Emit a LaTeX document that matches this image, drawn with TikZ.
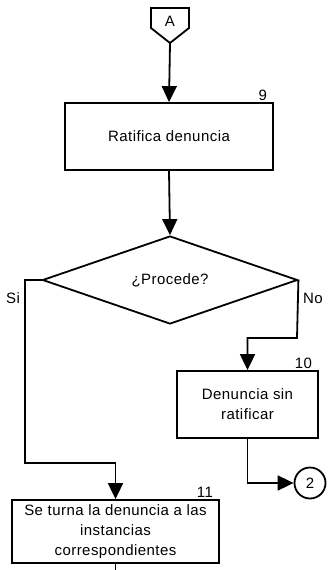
\documentclass[tikz,border=0pt]{standalone}
\usepackage{fontspec}
\setmainfont{Liberation Sans}[LetterSpace=3]
\usetikzlibrary{arrows.meta,shapes.geometric}

\begin{document}
\begin{tikzpicture}[x=1pt, y=-1pt, line width=1.8pt,
    font=\fontsize{15}{20}\selectfont,
    procbox/.style={draw, rectangle, align=center, inner sep=2pt},
    flow/.style={-{Triangle[length=16pt, width=15pt]}},
    stepnum/.style={anchor=south east, inner sep=1pt, xshift=-5pt}]
    \useasboundingbox (0,0) rectangle (328,570);
    % off-page connector
    \draw (151,8) -- (189,8) -- (189,28) -- (170,43) -- (151,28) -- cycle;
    \node (A) at (170,21) {A};
    \coordinate (Atip) at (170,43);
    % process steps
    \node[procbox, minimum width=208pt, minimum height=67pt] (ratifica) at (169,136.5) {Ratifica denuncia};
    \node[stepnum] at (ratifica.north east) {9};
    \node[draw, diamond, aspect=2.9, inner sep=0pt, minimum width=255pt, minimum height=88pt] (procede) at (170,280) {¿Procede?};
    \node[procbox, minimum width=141pt, minimum height=67pt] (sinratif) at (247.5,404.5) {Denuncia sin\\ratificar};
    \node[stepnum] at (sinratif.north east) {10};
    \node[draw, circle, minimum size=31pt, inner sep=0pt] (conn2) at (310,483) {2};
    \node[procbox, minimum width=207pt, minimum height=63pt] (turna) at (115.5,531.5) {Se turna la denuncia a las\\instancias\\correspondientes};
    \node[stepnum] at (turna.north east) {11};
    % connectors
    \coordinate (siturn) at (25,463);
    \coordinate (noturn) at (297,338);
    \coordinate (tail) at (115.5,572);
    \draw[flow] (Atip) -- (ratifica.north);
    \draw[flow] (ratifica.south) -- (procede.north);
    \draw[flow] (procede.west) -| (siturn) -| (turna.north);
    \draw[flow] (procede.east) -- (noturn) -| (sinratif.north);
    \draw[flow] (sinratif.south) |- (conn2.west);
    \draw (turna.south) -- (tail);
    \node (si) at (13,298) {Si};
    \node (no) at (313,298) {No};
\end{tikzpicture}
\end{document}
